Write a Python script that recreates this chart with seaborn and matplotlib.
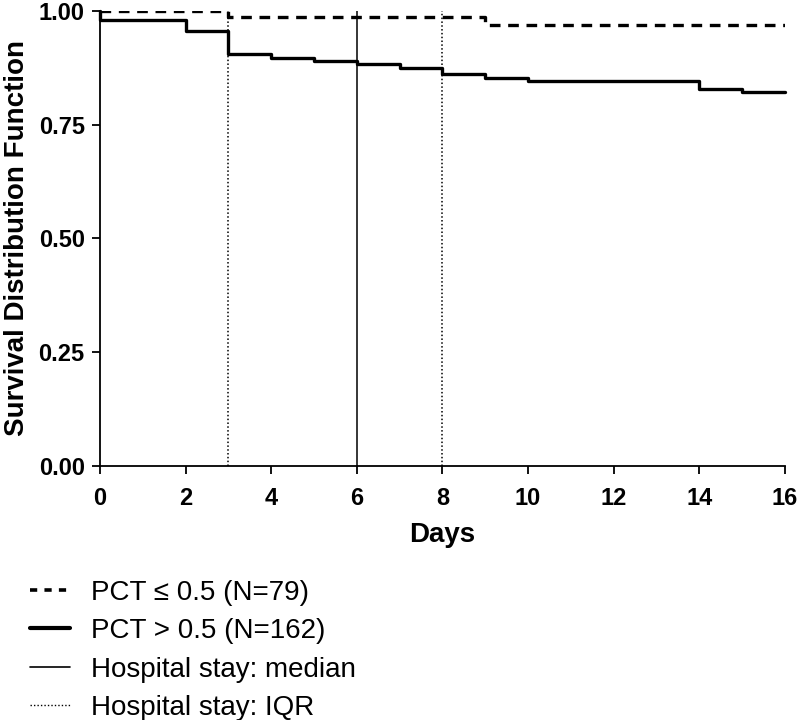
import pandas as pd
import matplotlib
matplotlib.use("Agg")
import matplotlib.pyplot as plt
from matplotlib.lines import Line2D
import seaborn as sns

# Kaplan-Meier style step data
dias_baixo = [0, 3, 9, 16]
surv_baixo = [1.0, 0.986, 0.969, 0.969]

dias_alto = [0, 0, 2, 3, 4, 5, 6, 7, 8, 9, 10, 14, 15, 16]
surv_alto = [1.0, 0.980, 0.955, 0.905, 0.897, 0.890, 0.883, 0.875, 0.862,
             0.853, 0.846, 0.829, 0.821, 0.821]

mediana = 6
iqr = [3, 8]

labels = ["PCT \u2264 0.5 (N=79)", "PCT > 0.5 (N=162)",
          "Hospital stay: median", "Hospital stay: IQR"]

sns.set_style("ticks")
plt.rcParams["font.family"] = ["Liberation Sans", "DejaVu Sans"]
plt.rcParams["text.color"] = "black"
plt.rcParams["axes.labelcolor"] = "black"
plt.rcParams["xtick.color"] = "black"
plt.rcParams["ytick.color"] = "black"

fig = plt.figure(figsize=(8, 7.2), dpi=100)
ax = fig.add_axes([0.125, 0.353, 0.856, 0.632])

df_baixo = pd.DataFrame({"Days": dias_baixo, "S": surv_baixo})
df_alto = pd.DataFrame({"Days": dias_alto, "S": surv_alto})

sns.lineplot(data=df_baixo, x="Days", y="S", ax=ax, estimator=None, sort=False,
             drawstyle="steps-post", color="black", lw=2.4, dashes=(3.2, 2.3))
sns.lineplot(data=df_alto, x="Days", y="S", ax=ax, estimator=None, sort=False,
             drawstyle="steps-post", color="black", lw=2.4, clip_on=False)

ax.axvline(mediana, color="black", lw=1.1)
for v in iqr:
    ax.axvline(v, color="black", lw=1.1, ls=(0, (1, 1.5)))

ax.set_xlim(0, 16)
ax.set_ylim(0, 1)
ax.set_xticks(range(0, 17, 2))
ax.set_yticks([0, 0.25, 0.5, 0.75, 1.0])
ax.set_yticklabels(["0.00", "0.25", "0.50", "0.75", "1.00"])
ax.tick_params(labelsize=17, width=1.3, length=6, color="black")
ax.tick_params(axis="x", pad=9)
ax.tick_params(axis="y", pad=5)
for lab in ax.get_xticklabels() + ax.get_yticklabels():
    lab.set_fontweight("bold")
ax.set_xlabel("Days", fontsize=20, fontweight="bold", labelpad=9)
ax.set_ylabel("Survival Distribution Function", fontsize=20, fontweight="bold", labelpad=6)
sns.despine(ax=ax)
for s in ["left", "bottom"]:
    ax.spines[s].set_linewidth(1.3)
    ax.spines[s].set_color("black")

handles = [
    Line2D([], [], color="black", lw=2.6, dashes=(2.0, 2.0)),
    Line2D([], [], color="black", lw=3),
    Line2D([], [], color="black", lw=1.2),
    Line2D([], [], color="black", lw=1.0, ls=(0, (1, 1.5))),
]
fig.legend(handles, labels, loc="upper left", bbox_to_anchor=(0.037, 0.195),
           frameon=False, fontsize=20, handlelength=1.45, handletextpad=0.75,
           labelspacing=0.45, borderpad=0, borderaxespad=0)

fig.savefig("out.png", dpi=100)
